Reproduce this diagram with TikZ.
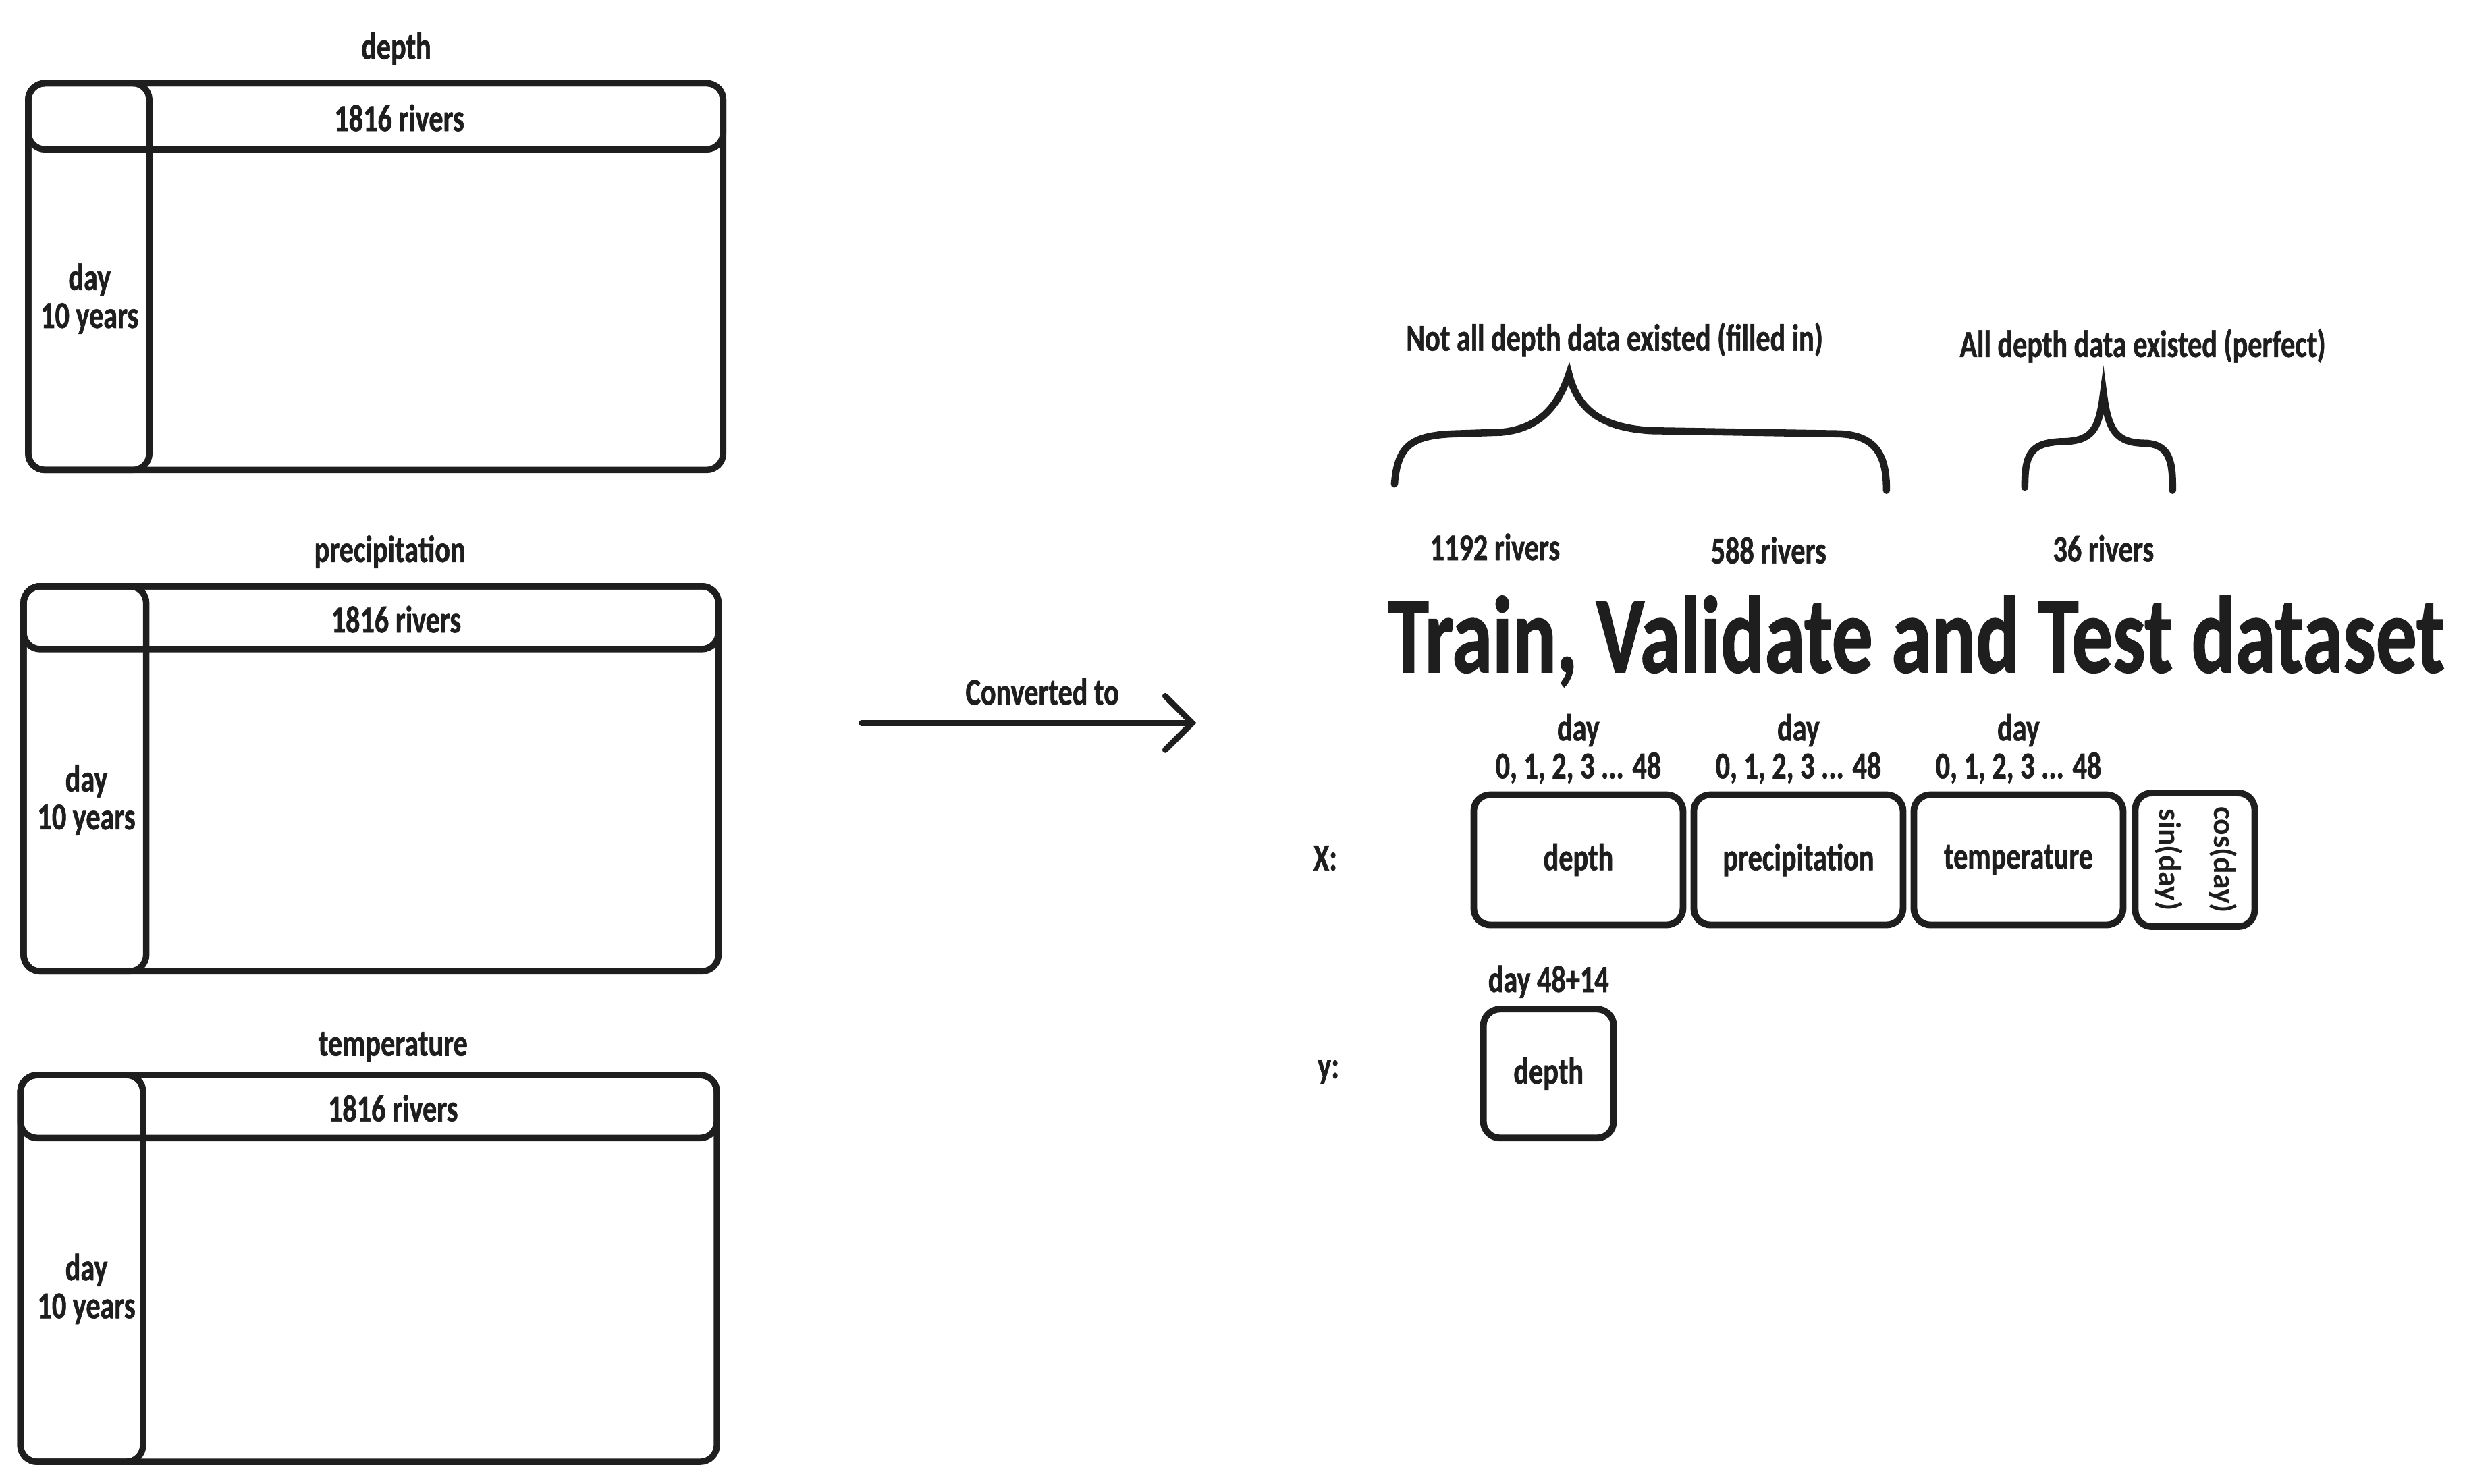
\documentclass[tikz,border=0pt]{standalone}
\usepackage{fontspec}
\setmainfont{Carlito}[FakeStretch=0.75, FakeBold=1]
\newfontfamily\trigfont{Carlito}
\usetikzlibrary{arrows.meta,
                positioning
                }
\definecolor{ink}{HTML}{1E1E1E}

\begin{document}
\begin{tikzpicture}[
    x=0.2329mm, y=-0.2329mm,
    every node/.style = {text=ink, align=center,
                         font=\bfseries\fontsize{16}{16}\selectfont},
    tbl/.style = {draw=ink, line width=2.7pt, rounded corners=7pt},
    box/.style = {draw=ink, line width=2.8pt, rounded corners=7pt,
                  minimum width=31mm, minimum height=19.3mm,
                  inner sep=0pt, outer sep=0pt},
  brace/.style = {draw=ink, line width=3pt, line cap=round},
   conv/.style = {draw=ink, line width=2.5pt, line cap=round,
                  -{Straight Barb[length=4mm, width=8mm, line cap=round]}},
  title/.style = {font=\bfseries\fontsize{46}{46}\selectfont}
                    ]
\useasboundingbox (0,0) rectangle (1568,944);
% input tables
\draw[tbl] (18,53) rectangle (460,299);
\draw[tbl] (18,53) rectangle (460,95);
\draw[tbl] (18,53) rectangle (95,299);
\node (depthttl) at (252,31)  {depth};
\node (depthriv) at (254,75)  {1816 rivers};
\node (depthday) at (57,190)  {day\\10 years};

\draw[tbl] (15,373) rectangle (457,618);
\draw[tbl] (15,373) rectangle (457,413);
\draw[tbl] (15,373) rectangle (93,618);
\node (precttl) at (248,351)  {precipitation};
\node (precriv) at (252,394)  {1816 rivers};
\node (precday) at (55,509)   {day\\10 years};

\draw[tbl] (13,684) rectangle (456,930);
\draw[tbl] (13,684) rectangle (456,724);
\draw[tbl] (13,684) rectangle (91,930);
\node (tempttl) at (250,666)  {temperature};
\node (tempriv) at (250,705)  {1816 rivers};
\node (tempday) at (55,820)   {day\\10 years};

% conversion
\coordinate (convstart) at (548,460);
\coordinate (convend)   at (761,460);
\draw[conv] (convstart) -- (convend);
\node (convlbl) at (663,440) {Converted to};

% river split
\node (filled)  at (1027,216) {Not all depth data existed (filled in)};
\node (perfect) at (1363,220) {All depth data existed (perfect)};
\draw[brace] (887,308) .. controls (889,285) and (896,277) .. (925,276)
             -- (955,275) .. controls (976,273) and (990,262) .. (998,238)
             .. controls (1004,262) and (1020,272) .. (1050,274)
             -- (1170,276) .. controls (1195,277) and (1200,292) .. (1200,312);
\draw[brace] (1288,310) .. controls (1288,290) and (1291,282) .. (1310,281)
             .. controls (1331,281) and (1335,274) .. (1338,250)
             .. controls (1341,274) and (1346,282) .. (1365,282)
             .. controls (1381,283) and (1382,295) .. (1382,312);
\node (train) at (951,348)  {1192 rivers};
\node (valid) at (1125,350) {588 rivers};
\node (test)  at (1338,349) {36 rivers};
\node[title] (dataset) at (1219,408) {Train, Validate and Test dataset};

% model input
\node (xlbl) at (843,546) {X:};
\node[box] (xdepth) at (1004,547) {depth};
\node[box, right=1.6mm of xdepth]  (xprec) {precipitation};
\node[box, right=1.6mm of xprec]   (xtemp) {temperature};
\node[box, right=1.8mm of xtemp, minimum width=17.7mm, minimum height=19.8mm] (xtrig) {};
\node[rotate=-90, font=\trigfont\bfseries\fontsize{13}{13}\selectfont]
     (sinday) at ([xshift=-3.9mm]xtrig.center) {sin(day)};
\node[rotate=-90, font=\trigfont\bfseries\fontsize{13}{13}\selectfont]
     (cosday) at ([xshift=4.2mm]xtrig.center) {cos(day)};
\node[above=0.4mm of xdepth] (xdepthday) {day\\0, 1, 2, 3 ... 48};
\node[above=0.4mm of xprec]  (xprecday)  {day\\0, 1, 2, 3 ... 48};
\node[above=0.4mm of xtemp]  (xtempday)  {day\\0, 1, 2, 3 ... 48};

% model output
\node (ylbl) at (845,682) {y:};
\node[box, minimum width=19.3mm, minimum height=19.1mm] (ydepth) at (985,683) {depth};
\node[above=0.4mm of ydepth] (ydepthday) {day 48+14};
\end{tikzpicture}
\end{document}
